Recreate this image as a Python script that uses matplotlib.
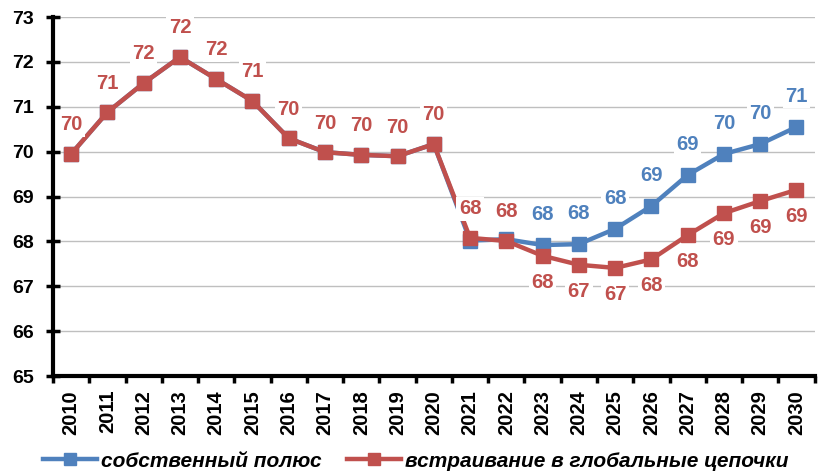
import matplotlib
matplotlib.use("Agg")
import matplotlib.pyplot as plt
from matplotlib.lines import Line2D

plt.rcParams['font.family'] = ['Liberation Sans', 'DejaVu Sans']

years = [str(y) for y in range(2010, 2031)]
own_pole = [69.95, 70.88, 71.53, 72.11, 71.62, 71.13, 70.30, 69.99, 69.93, 69.90, 70.17,
            68.02, 68.05, 67.92, 67.94, 68.28, 68.79, 69.48, 69.95, 70.17, 70.55]
global_chains = [69.95, 70.88, 71.53, 72.11, 71.62, 71.13, 70.30, 69.99, 69.93, 69.90, 70.17,
                 68.08, 68.01, 67.68, 67.48, 67.41, 67.60, 68.14, 68.63, 68.90, 69.15]
y_ticks = [65, 66, 67, 68, 69, 70, 71, 72, 73]
series_names = ['собственный полюс', 'встраивание в глобальные цепочки']

blue = '#4F81BD'
red = '#C0504D'

fig = plt.figure(figsize=(8.18, 4.76), dpi=100)
ax = fig.add_axes([0.0648, 0.21, 0.931, 0.754])

x = list(range(len(years)))
ax.plot(x, own_pole, color=blue, lw=3.2, marker='s', ms=10, zorder=3)
ax.plot(x, global_chains, color=red, lw=3.2, marker='s', ms=10, zorder=4)

split = years.index('2023')
bbox = dict(boxstyle='square,pad=0.12', fc='white', ec='none')
for i, v in enumerate(own_pole):
    if i >= split:
        ax.annotate(f'{round(v):d}', (i, v), xytext=(0, 22), textcoords='offset points',
                    ha='center', va='center', fontsize=14.5, fontweight='bold', color=blue,
                    bbox=bbox, zorder=6, annotation_clip=False)
for i, v in enumerate(global_chains):
    dy = 21 if i < split else -19
    ax.annotate(f'{round(v):d}', (i, v), xytext=(0, dy), textcoords='offset points',
                ha='center', va='center', fontsize=14.5, fontweight='bold', color=red,
                bbox=bbox, zorder=7, annotation_clip=False)

ax.set_xlim(-0.5, len(years) - 0.5)
ax.set_ylim(65, 73)
ax.set_yticks(y_ticks)
ax.set_yticklabels([str(t) for t in y_ticks], fontsize=14, fontweight='bold')
ax.set_xticks(x)
ax.set_xticklabels(years, rotation=90, fontsize=14.5, fontweight='bold')
ax.set_xticks([i - 0.5 for i in range(len(years) + 1)], minor=True)
ax.tick_params(axis='x', which='major', length=0, pad=10)
ax.tick_params(axis='x', which='minor', length=5, width=2.5, direction='out')
ax.tick_params(axis='y', which='major', length=10, width=2.5, direction='inout', pad=9)

ax.grid(axis='y', color='#BFBFBF', lw=1)
ax.set_axisbelow(True)
for s in ['top', 'right']:
    ax.spines[s].set_visible(False)
ax.spines['left'].set_linewidth(3)
ax.spines['bottom'].set_linewidth(3)

handles = [Line2D([], [], color=blue, lw=3.2, marker='s', ms=9),
           Line2D([], [], color=red, lw=3.2, marker='s', ms=9)]
fig.legend(handles, series_names, loc='center', bbox_to_anchor=(0.508, 0.031), ncol=2,
           frameon=False, handlelength=2.6, handletextpad=0.2, columnspacing=1.2,
           prop=dict(size=15, style='italic', weight='bold'))

fig.savefig('out.png', dpi=100)
